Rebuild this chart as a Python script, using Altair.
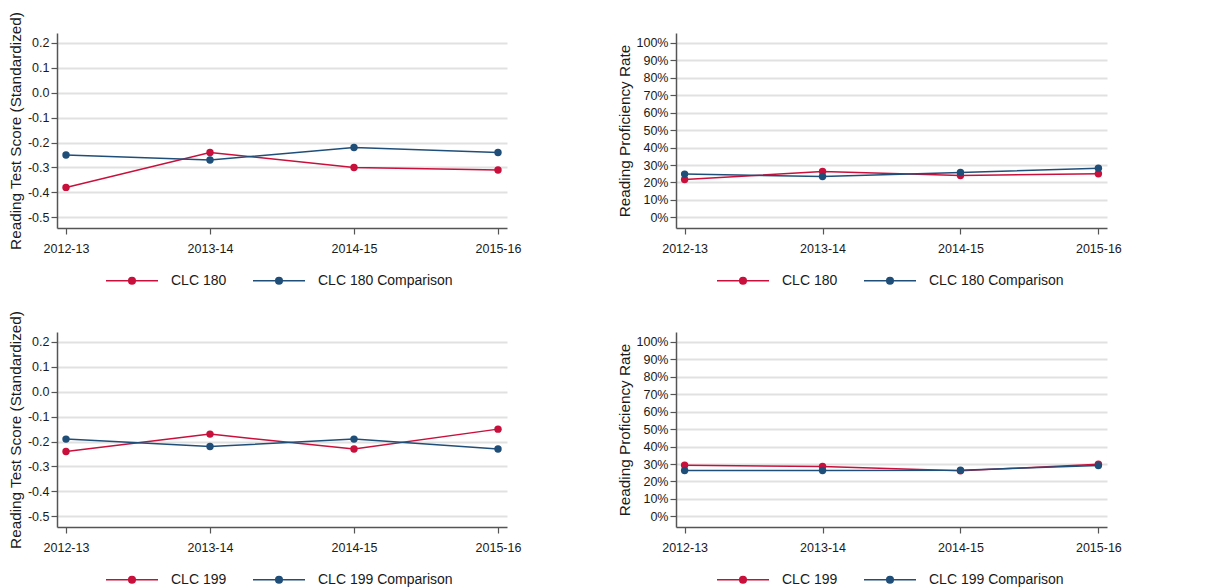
import altair as alt
import pandas as pd

years = ["2012-13", "2013-14", "2014-15", "2015-16"]

clc180_score = [-0.38, -0.24, -0.30, -0.31]
clc180_comp_score = [-0.25, -0.27, -0.22, -0.24]
clc180_prof = [0.217, 0.263, 0.240, 0.250]
clc180_comp_prof = [0.248, 0.234, 0.257, 0.282]

clc199_score = [-0.24, -0.17, -0.23, -0.15]
clc199_comp_score = [-0.19, -0.22, -0.19, -0.23]
clc199_prof = [0.293, 0.286, 0.261, 0.299]
clc199_comp_prof = [0.263, 0.263, 0.265, 0.291]

score_ticks = [-0.5, -0.4, -0.3, -0.2, -0.1, 0.0, 0.1, 0.2]
prof_ticks = [0.0, 0.1, 0.2, 0.3, 0.4, 0.5, 0.6, 0.7, 0.8, 0.9, 1.0]

RED = "#C9103C"
BLUE = "#1F4E79"
FONT = "Liberation Sans"

# legend symbol: a line with a dot (custom path)
LEG_PATH = ("M-1,0H7 "
            "M3.5,0A0.5,0.5 0 1,1 2.5,0A0.5,0.5 0 1,1 3.5,0 "
            "M3.35,0A0.35,0.35 0 1,1 2.65,0A0.35,0.35 0 1,1 3.35,0 "
            "M3.2,0A0.2,0.2 0 1,1 2.8,0A0.2,0.2 0 1,1 3.2,0 "
            "M3.07,0A0.07,0.07 0 1,1 2.93,0A0.07,0.07 0 1,1 3.07,0")


def make_df(a, b, name_a, name_b):
    return pd.DataFrame({
        "year": years * 2,
        "value": a + b,
        "series": [name_a] * 4 + [name_b] * 4,
    })


def panel(df, names, ytitle, domain, ticks, fmt, width, legx):
    x = alt.X("year:O", sort=years, title=None,
              scale=alt.Scale(type="point", padding=0.0625),
              axis=alt.Axis(labelAngle=0, grid=False, domain=True,
                            domainColor="#555555", domainWidth=1.5,
                            tickColor="#555555", tickSize=6, tickWidth=1.2,
                            labelPadding=8, labelFontSize=12.5,
                            labelFont=FONT, labelColor="#1a1a1a"))
    y = alt.Y("value:Q", title=ytitle,
              scale=alt.Scale(domain=domain, nice=False, zero=False),
              axis=alt.Axis(values=ticks,
                            labelExpr="replace(format(datum.value, '%s'), '\u2212', '-')" % fmt,
                            grid=True,
                            gridColor="#E1E1E1", gridWidth=2,
                            domainColor="#555555", domainWidth=1.5,
                            tickColor="#555555", tickSize=6, tickWidth=1.2,
                            labelPadding=2, labelFontSize=12.5,
                            labelFont=FONT, labelColor="#1a1a1a",
                            titleFont=FONT, titleFontSize=15.3,
                            titleFontWeight="normal", titleColor="#1a1a1a",
                            titlePadding=4))
    color = alt.Color("series:N", sort=names,
                      scale=alt.Scale(domain=names, range=[RED, BLUE]),
                      legend=alt.Legend(title=None, orient="none",
                                        direction="horizontal",
                                        legendX=legx, legendY=240,
                                        symbolType=LEG_PATH, symbolSize=169,
                                        symbolStrokeWidth=1.6,
                                        labelOffset=51, columnPadding=22,
                                        labelFontSize=14, labelFont=FONT,
                                        labelColor="#1a1a1a"))
    base = alt.Chart(df)
    line = base.mark_line(strokeWidth=1.5).encode(x=x, y=y, color=color)
    pts = base.mark_point(filled=True, size=55, opacity=1).encode(
        x=x, y=y, color=alt.Color("series:N", sort=names,
                                  scale=alt.Scale(domain=names, range=[RED, BLUE]),
                                  legend=None))
    return alt.layer(line, pts).properties(width=width, height=195)


n180 = ["CLC 180", "CLC 180 Comparison"]
n199 = ["CLC 199", "CLC 199 Comparison"]
score_title = "Reading Test Score (Standardized)"
prof_title = "Reading Proficiency Rate"
score_dom = [-0.543, 0.24]
prof_dom = [-0.061, 1.057]

p1 = panel(make_df(clc180_score, clc180_comp_score, *n180), n180, score_title,
           score_dom, score_ticks, ".1f", 450, 48)
p2 = panel(make_df(clc180_prof, clc180_comp_prof, *n180), n180, prof_title,
           prof_dom, prof_ticks, ".0%", 431, 40)
p3 = panel(make_df(clc199_score, clc199_comp_score, *n199), n199, score_title,
           score_dom, score_ticks, ".1f", 450, 48)
p4 = panel(make_df(clc199_prof, clc199_comp_prof, *n199), n199, prof_title,
           prof_dom, prof_ticks, ".0%", 431, 40)

row1 = alt.hconcat(p1, p2, spacing=96).resolve_scale(color="independent").resolve_legend(color="independent")
row2 = alt.hconcat(p3, p4, spacing=96).resolve_scale(color="independent").resolve_legend(color="independent")

chart = alt.vconcat(row1, row2, spacing=22).resolve_scale(
    color="independent").resolve_legend(color="independent").properties(
    padding={"top": 3, "left": 0, "right": 0, "bottom": 0},
    background="white").configure_view(stroke=None)

chart.save("out.html", embed_options={"renderer": "svg", "actions": False})
